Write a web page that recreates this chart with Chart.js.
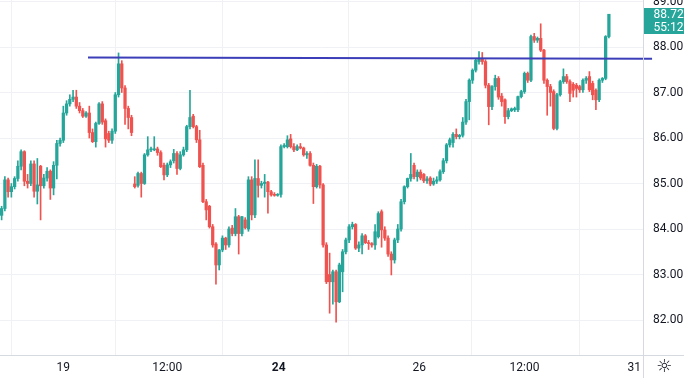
<!DOCTYPE html>
<html>
<head>
<meta charset="utf-8">
<script src="https://cdn.jsdelivr.net/npm/chart.js@4.4.1/dist/chart.umd.min.js"></script>
<style>
  html, body { margin: 0; padding: 0; background: #fff; }
  #wrap { width: 684px; height: 378px; position: relative; }
</style>
</head>
<body>
<div id="wrap"><canvas id="chart"></canvas></div>
<script>
// candle values, one entry per bar
const opens = [
  84.30, 84.45, 85.08, 84.82, 84.93, 85.11, 85.38, 85.70, 85.05, 85.00,
  85.43, 84.83, 85.38, 84.95, 85.12, 85.27, 84.90, 85.40, 85.88, 85.95,
  86.55, 86.75, 86.85, 86.90, 86.70, 86.60, 86.48, 86.55, 86.12, 85.92,
  86.32, 86.75, 86.38, 86.10, 85.95, 86.15, 86.95, 87.63, 87.10, 86.65,
  86.45, 84.99, 84.96, 85.22, 85.00, 85.63, 85.74, 85.74, 85.76, 85.68,
  85.40, 85.19, 85.41, 85.50, 85.66, 85.33, 85.63, 85.74, 86.25, 86.48,
  86.25, 85.96, 85.40, 84.60, 84.50, 84.05, 83.67, 83.21, 83.54, 83.80,
  83.65, 84.02, 83.90, 84.27, 83.90, 84.20, 84.00, 85.08, 84.31, 85.11,
  84.96, 85.00, 85.03, 84.82, 84.76, 84.74, 84.76, 85.81, 85.81, 85.98,
  85.81, 85.74, 85.81, 85.78, 85.63, 85.66, 85.40, 84.93, 85.38, 84.97,
  83.65, 83.00, 82.84, 83.06, 82.40, 83.06, 83.50, 83.76, 84.05, 84.10,
  83.58, 83.65, 83.85, 83.70, 83.68, 83.65, 83.83, 84.38, 83.98, 83.80,
  83.45, 83.32, 83.76, 84.00, 84.60, 84.93, 85.11, 85.40, 85.15, 85.25,
  85.20, 85.06, 85.12, 84.99, 85.05, 85.08, 85.26, 85.50, 85.85, 85.90,
  86.08, 86.03, 86.06, 86.35, 86.80, 87.27, 87.49, 87.68, 87.75, 87.68,
  87.16, 86.69, 87.13, 87.31, 86.92, 86.84, 86.47, 86.60, 86.62, 86.62,
  86.91, 87.02, 87.42, 87.27, 88.23, 88.15, 88.19, 87.93, 87.27, 87.13,
  87.02, 86.21, 86.95, 87.24, 87.35, 87.24, 87.18, 87.16, 87.13, 87.06,
  87.27, 87.35, 87.20, 87.05, 86.84, 87.27, 87.31, 88.23
];
const highs = [
  84.50, 85.15, 85.12, 85.00, 85.15, 85.50, 85.74, 85.72, 85.20, 85.50,
  85.50, 85.55, 85.40, 85.20, 85.35, 85.30, 85.48, 85.95, 86.00, 86.70,
  86.82, 86.95, 87.05, 87.05, 86.78, 86.65, 86.58, 86.70, 86.20, 86.35,
  86.78, 86.80, 86.42, 86.15, 86.20, 87.00, 87.87, 87.70, 87.15, 86.70,
  86.50, 85.15, 85.25, 85.25, 85.66, 86.03, 85.80, 86.03, 85.80, 85.72,
  85.45, 85.45, 85.52, 85.75, 85.70, 85.70, 85.80, 86.28, 87.05, 86.52,
  86.28, 86.17, 85.45, 84.65, 84.52, 84.10, 83.70, 83.55, 83.85, 83.82,
  84.05, 84.08, 84.45, 84.30, 84.28, 84.25, 85.15, 85.15, 85.52, 85.52,
  85.05, 85.20, 85.05, 84.85, 84.80, 84.78, 85.85, 85.88, 86.05, 86.08,
  85.88, 85.85, 85.88, 85.80, 85.70, 85.70, 85.45, 85.42, 85.40, 85.00,
  83.70, 83.47, 83.10, 83.10, 83.25, 83.55, 83.80, 84.10, 84.15, 84.12,
  83.72, 83.90, 83.88, 83.75, 83.70, 84.10, 84.38, 84.42, 84.05, 83.85,
  83.50, 83.80, 84.10, 84.65, 84.95, 85.12, 85.66, 85.45, 85.30, 85.30,
  85.22, 85.15, 85.15, 85.12, 85.15, 85.30, 85.55, 85.88, 86.00, 86.12,
  86.20, 86.08, 86.45, 86.85, 87.30, 87.52, 87.75, 87.90, 87.88, 87.72,
  87.20, 87.15, 87.38, 87.35, 86.98, 86.86, 86.65, 86.66, 86.68, 86.92,
  87.05, 87.45, 87.45, 88.26, 88.30, 88.22, 88.51, 87.95, 87.30, 87.18,
  87.06, 86.98, 87.27, 87.52, 87.40, 87.28, 87.22, 87.20, 87.16, 87.30,
  87.35, 87.46, 87.25, 87.08, 87.30, 87.33, 88.25, 88.72
];
const lows = [
  84.20, 84.40, 84.70, 84.70, 84.88, 85.05, 85.30, 84.95, 84.90, 84.95,
  84.70, 84.55, 84.20, 84.90, 85.05, 84.65, 84.75, 85.10, 85.82, 85.90,
  86.50, 86.70, 86.80, 86.65, 86.55, 86.45, 86.45, 86.00, 85.90, 85.80,
  86.30, 86.30, 85.80, 85.90, 85.88, 86.10, 86.90, 87.00, 86.30, 86.20,
  86.05, 84.90, 84.92, 84.70, 84.98, 85.60, 85.70, 85.72, 85.62, 85.35,
  85.08, 85.15, 85.35, 85.45, 85.20, 85.30, 85.60, 85.70, 86.20, 86.22,
  85.90, 85.35, 84.58, 84.20, 84.02, 83.60, 82.79, 83.10, 83.50, 83.55,
  83.60, 83.85, 83.85, 83.45, 83.85, 84.00, 83.95, 84.20, 84.25, 84.70,
  84.90, 84.70, 84.35, 84.72, 84.72, 84.72, 84.70, 85.78, 85.78, 85.78,
  85.70, 85.72, 85.76, 85.60, 85.55, 85.38, 84.56, 84.90, 84.90, 83.60,
  82.80, 82.15, 82.35, 81.95, 82.38, 82.62, 83.45, 83.70, 84.00, 83.55,
  83.50, 83.45, 83.68, 83.55, 83.60, 83.55, 83.80, 83.60, 83.75, 83.40,
  82.99, 83.25, 83.70, 83.95, 84.55, 84.90, 85.05, 85.10, 85.05, 85.08,
  85.02, 85.00, 84.95, 84.96, 85.00, 85.05, 85.22, 85.45, 85.80, 85.80,
  85.98, 85.98, 86.02, 86.30, 86.40, 87.20, 87.45, 87.62, 87.62, 87.10,
  86.29, 86.62, 87.05, 86.85, 86.70, 86.32, 86.42, 86.58, 86.58, 86.58,
  86.88, 86.98, 87.22, 87.24, 88.10, 88.10, 87.90, 87.20, 86.50, 86.70,
  86.18, 86.18, 86.92, 87.20, 87.20, 86.80, 86.90, 86.90, 87.00, 87.00,
  87.20, 87.02, 86.84, 86.62, 86.80, 87.22, 87.28, 88.20
];
const closes = [
  84.45, 85.08, 84.82, 84.93, 85.11, 85.38, 85.70, 85.05, 85.00, 85.43,
  84.83, 84.97, 84.95, 85.12, 85.27, 84.90, 85.40, 85.88, 85.95, 86.55,
  86.75, 86.85, 86.90, 86.70, 86.60, 86.48, 86.55, 86.12, 85.92, 86.32,
  86.75, 86.35, 85.98, 85.95, 86.15, 86.95, 87.63, 87.10, 86.65, 86.45,
  86.12, 84.93, 85.22, 85.00, 85.63, 85.74, 85.76, 85.76, 85.68, 85.37,
  85.19, 85.41, 85.48, 85.66, 85.33, 85.63, 85.74, 86.25, 86.45, 86.25,
  85.96, 85.37, 84.60, 84.42, 84.05, 83.65, 83.21, 83.54, 83.80, 83.65,
  84.00, 83.90, 84.27, 83.90, 84.27, 84.03, 85.08, 84.31, 85.11, 84.96,
  85.00, 85.03, 84.82, 84.75, 84.74, 84.76, 85.81, 85.84, 85.96, 85.81,
  85.74, 85.81, 85.78, 85.63, 85.66, 85.40, 84.93, 85.38, 84.97, 83.65,
  82.84, 82.84, 83.06, 82.40, 83.21, 83.50, 83.76, 84.05, 84.10, 83.58,
  83.65, 83.85, 83.70, 83.68, 83.65, 83.94, 84.34, 83.98, 83.80, 83.45,
  83.32, 83.76, 84.00, 84.60, 84.93, 85.11, 85.20, 85.15, 85.25, 85.12,
  85.06, 85.10, 84.99, 85.05, 85.08, 85.26, 85.50, 85.85, 85.96, 86.08,
  86.03, 86.06, 86.35, 86.80, 87.27, 87.49, 87.71, 87.75, 87.68, 87.16,
  86.69, 87.13, 87.31, 86.90, 86.80, 86.47, 86.60, 86.64, 86.65, 86.91,
  87.02, 87.42, 87.27, 88.23, 88.15, 88.19, 87.93, 87.27, 87.13, 87.00,
  86.21, 86.95, 87.24, 87.35, 87.24, 86.98, 87.05, 87.09, 87.06, 87.27,
  87.31, 87.06, 86.95, 86.84, 87.27, 87.31, 88.23, 88.72
];

// time axis: bar index where each label sits
const timeTickPos = [19, 51, 85.3, 128.6, 161, 194.8];
const timeTickLabels = ['19', '12:00', '24', '26', '12:00', '31'];
const priceTicks = [82, 83, 84, 85, 86, 87, 88, 89];

// horizontal trend line drawn by hand on the chart
const trendX = [26.6, 200.3];
const trendY = [87.77, 87.74];

const lastPrice = '88.72';
const countdown = '55:12';

const upColor = '#26a69a';
const downColor = '#ef5350';

const idx = opens.map((o, i) => i);
const candleColors = idx.map(i => closes[i] >= opens[i] ? upColor : downColor);

// borders, price tag and corner icon
const overlay = {
  id: 'overlay',
  afterDraw(chart) {
    const { ctx, chartArea } = chart;
    const r = Math.round(chartArea.right) + 0.5;
    const b = Math.round(chartArea.bottom) + 0.5;
    ctx.save();
    ctx.strokeStyle = '#d6d9e0';
    ctx.lineWidth = 1;
    ctx.beginPath();
    ctx.moveTo(r, 0);
    ctx.lineTo(r, chart.height);
    ctx.moveTo(0, b);
    ctx.lineTo(chart.width, b);
    ctx.stroke();

    // last price label
    ctx.fillStyle = upColor;
    ctx.fillRect(r + 0.5, 8, chart.width - r, 26);
    ctx.fillStyle = '#ffffff';
    ctx.font = '12px Roboto';
    ctx.textAlign = 'left';
    ctx.textBaseline = 'middle';
    ctx.fillText(lastPrice, r + 10, 15);
    ctx.fillText(countdown, r + 10, 28);

    // settings icon in the corner
    ctx.fillStyle = '#131722';
    ctx.font = '18px "DejaVu Sans"';
    ctx.textAlign = 'center';
    ctx.fillText('\u263C', 664, 367);
    ctx.restore();
  }
};

new Chart(document.getElementById('chart'), {
  type: 'bar',
  data: {
    datasets: [
      {
        label: 'wick',
        data: idx.map(i => ({ x: i, y: [lows[i], highs[i]] })),
        backgroundColor: candleColors,
        barThickness: 1,
        grouped: false,
        order: 3
      },
      {
        label: 'body',
        data: idx.map(i => ({ x: i, y: [opens[i], closes[i]] })),
        backgroundColor: candleColors,
        barThickness: 2.6,
        minBarLength: 1,
        grouped: false,
        order: 2
      },
      {
        type: 'line',
        label: 'trend',
        data: trendX.map((x, k) => ({ x: x, y: trendY[k] })),
        borderColor: '#3b3eb8',
        borderWidth: 2,
        pointRadius: 0,
        clip: false,
        order: 1
      }
    ]
  },
  options: {
    responsive: true,
    maintainAspectRatio: false,
    animation: false,
    layout: { padding: 0, autoPadding: false },
    plugins: { legend: { display: false }, tooltip: { enabled: false } },
    scales: {
      x: {
        type: 'linear',
        min: -0.5,
        max: 197.5,
        offset: false,
        grid: { color: '#eff1f5', drawTicks: false },
        border: { display: false },
        afterBuildTicks: s => { s.ticks = timeTickPos.map(v => ({ value: v })); },
        afterFit: s => { s.height = 23; s.paddingLeft = 0; s.paddingRight = 0; },
        ticks: {
          autoSkip: false,
          maxRotation: 0,
          padding: 6,
          color: '#131722',
          font: c => ({ family: 'Roboto', size: 12, weight: c.index === 2 ? 'bold' : 'normal' }),
          callback: (v, i) => timeTickLabels[i]
        }
      },
      y: {
        type: 'linear',
        position: 'right',
        min: 81.231,
        max: 89.033,
        grid: { color: '#eff1f5', drawTicks: false },
        border: { display: false },
        afterBuildTicks: s => { s.ticks = priceTicks.map(v => ({ value: v })); },
        afterFit: s => { s.width = 41; s.paddingTop = 0; s.paddingBottom = 0; },
        ticks: {
          padding: 10,
          color: '#131722',
          font: { family: 'Roboto', size: 12 },
          callback: v => v.toFixed(2)
        }
      }
    }
  },
  plugins: [overlay]
});
</script>
</body>
</html>
